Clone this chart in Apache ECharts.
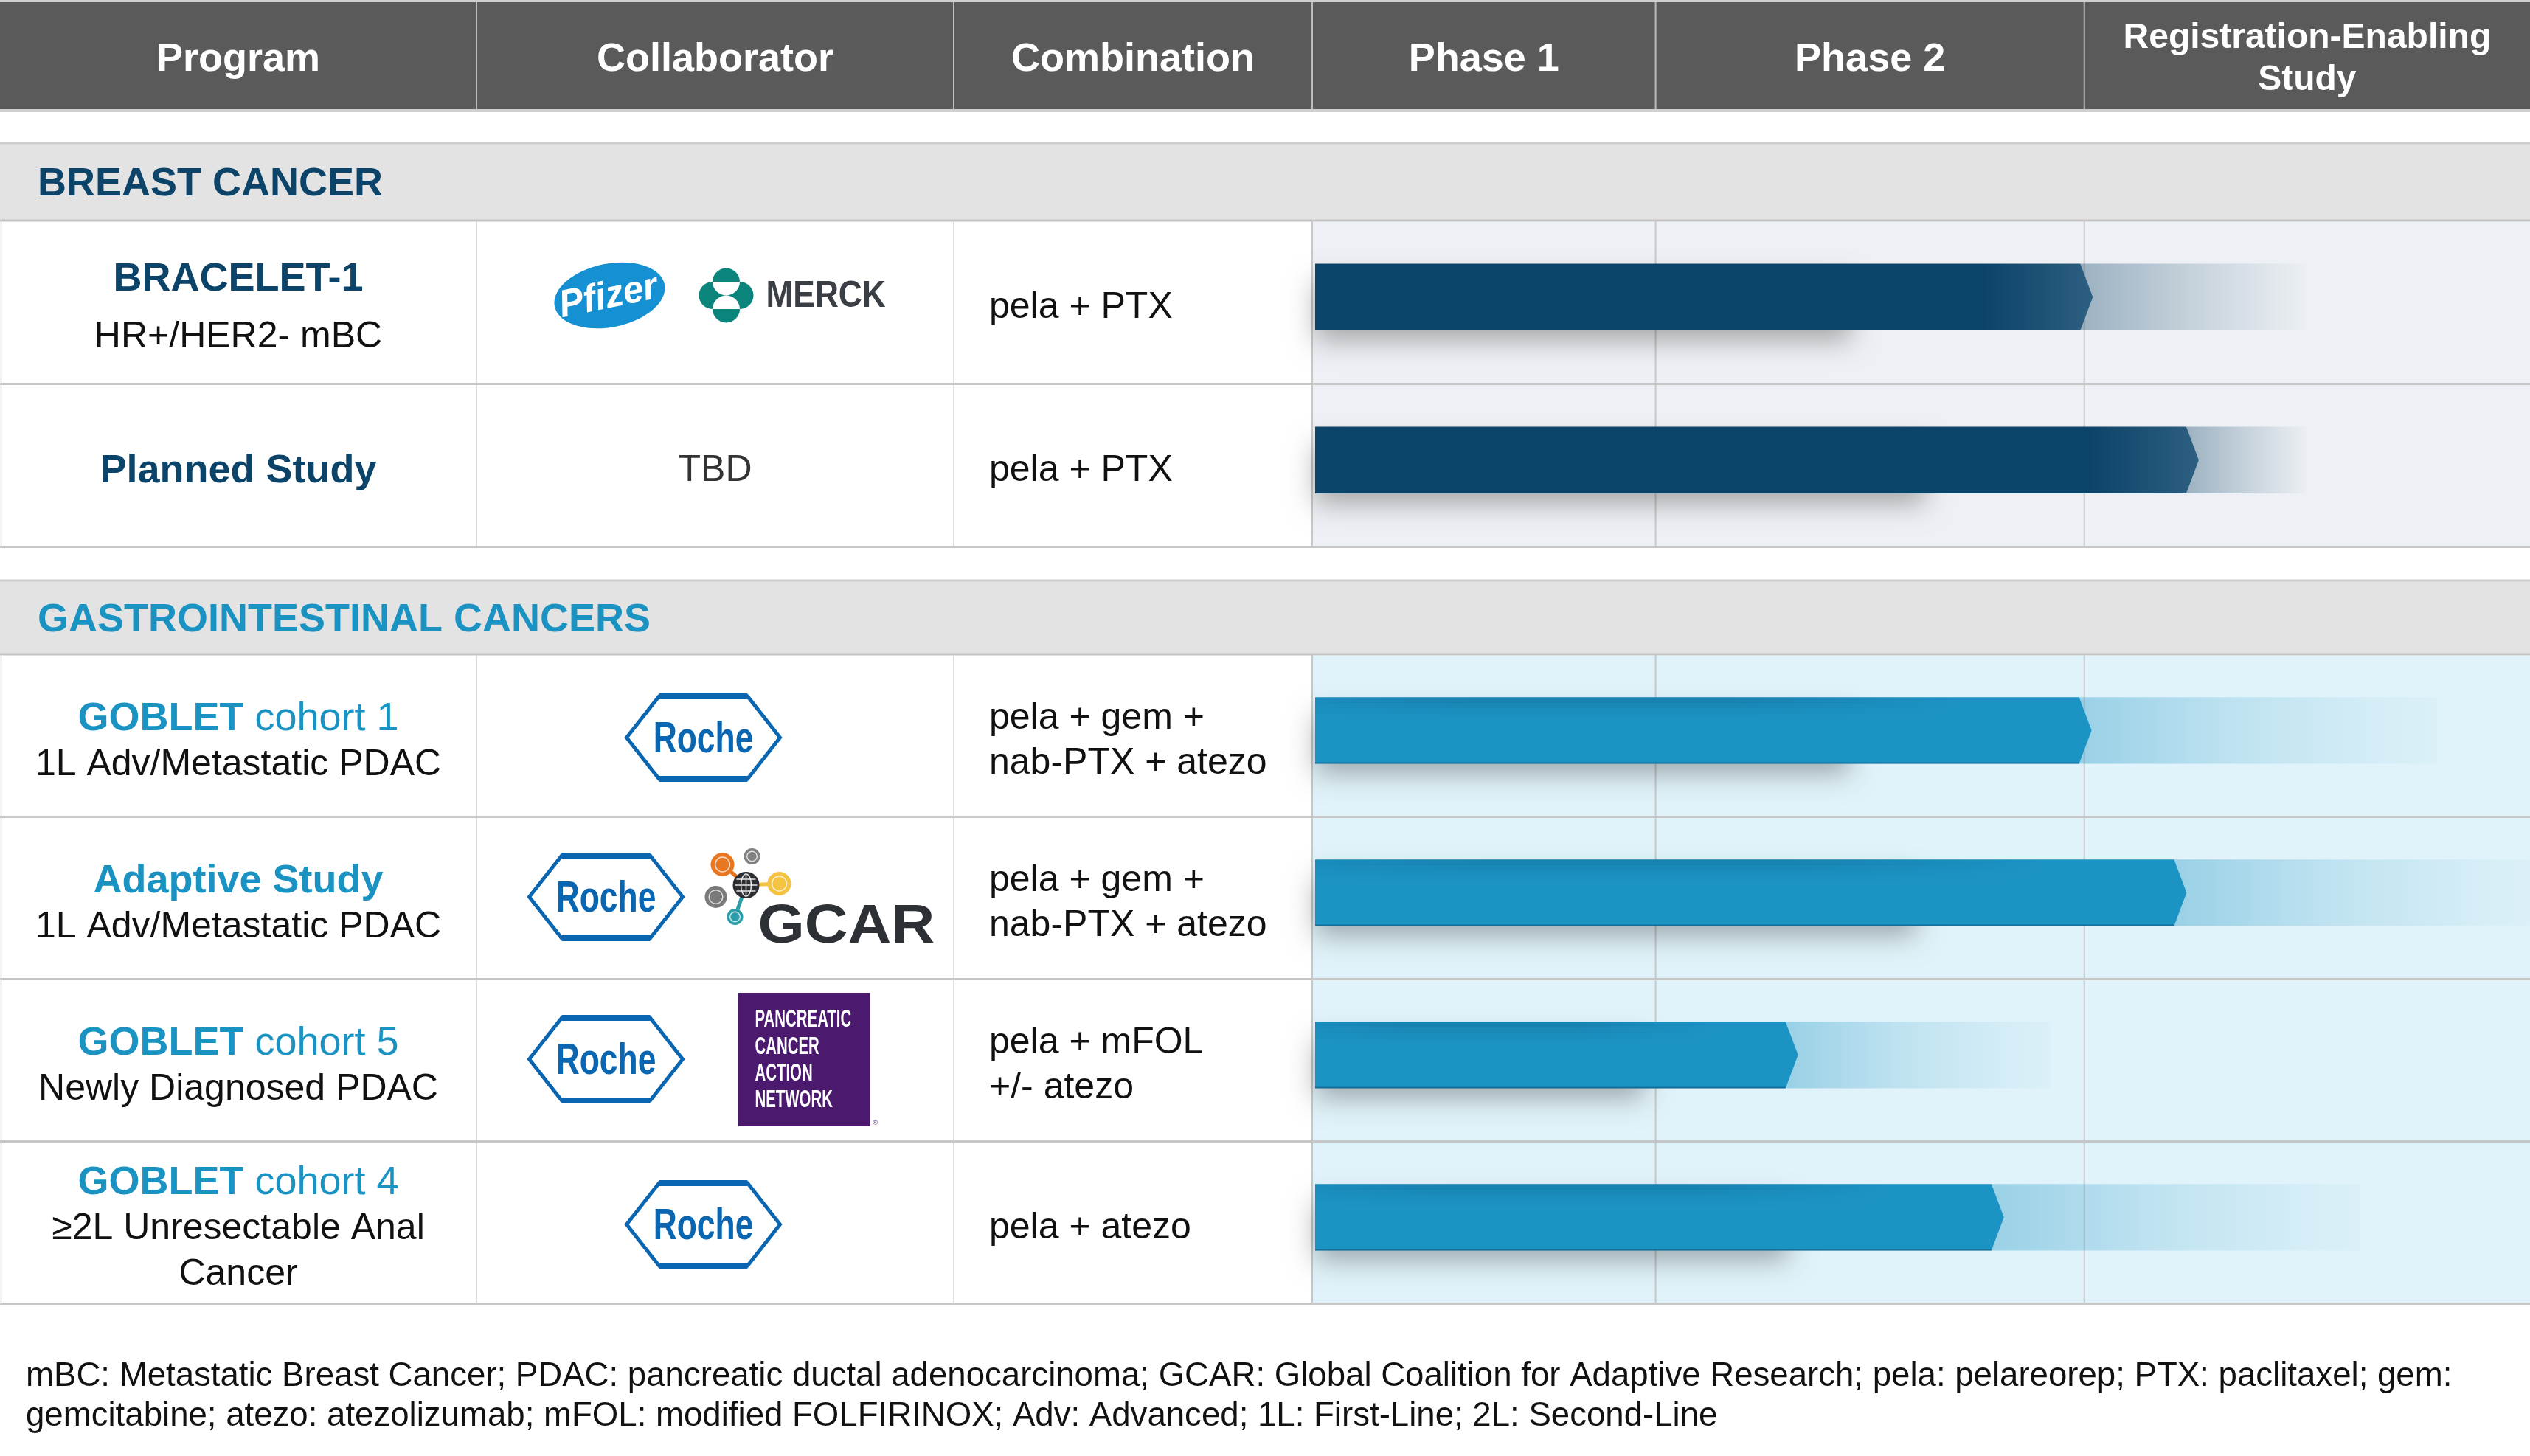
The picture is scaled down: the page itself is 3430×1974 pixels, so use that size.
<!DOCTYPE html>
<html><head><meta charset="utf-8">
<script src="https://cdn.jsdelivr.net/npm/echarts@6/dist/echarts.min.js"></script>
<style>html,body{margin:0;padding:0;background:#fff}#c{width:3430px;height:1974px}</style>
</head><body><div id="c"></div>
<script>
// ---------------- data ----------------
const phaseLabels = ['Phase 1', 'Phase 2', 'Registration-Enabling\nStudy'];
const phaseBounds = [0, 28.2, 63.4, 100];
const tableHeaders = ['Program', 'Collaborator', 'Combination'];
const sectionNames = ['BREAST CANCER', 'GASTROINTESTINAL CANCERS'];

const breastPrograms = ['BRACELET-1', 'Planned Study'];
const breastIndications = [['HR+/HER2- mBC'], []];
const breastCollaborators = [['Pfizer', 'MERCK'], ['TBD']];
const breastCombinations = [['pela + PTX'], ['pela + PTX']];
const breastProgress = [64.1, 72.8];
const breastOutlook = [84.0, 83.0];

const giPrograms = ['GOBLET cohort 1', 'Adaptive Study', 'GOBLET cohort 5', 'GOBLET cohort 4'];
const giIndications = [['1L Adv/Metastatic PDAC'], ['1L Adv/Metastatic PDAC'], ['Newly Diagnosed PDAC'], ['≥2L Unresectable Anal', 'Cancer']];
const giCollaborators = [['Roche'], ['Roche', 'GCAR'], ['Roche', 'PANCREATIC\nCANCER\nACTION\nNETWORK'], ['Roche']];
const giCombinations = [['pela + gem +', 'nab-PTX + atezo'], ['pela + gem +', 'nab-PTX + atezo'], ['pela + mFOL', '+/- atezo'], ['pela + atezo']];
const giProgress = [64.0, 71.8, 39.9, 56.8];
const giOutlook = [92.4, 100, 60.6, 86.1];

const footnoteLines = [
  'mBC: Metastatic Breast Cancer; PDAC: pancreatic ductal adenocarcinoma; GCAR: Global Coalition for Adaptive Research; pela: pelareorep; PTX: paclitaxel; gem:',
  'gemcitabine; atezo: atezolizumab; mFOL: modified FOLFIRINOX; Adv: Advanced; 1L: First-Line; 2L: Second-Line'
];

// ---------------- styles ----------------
const FF = '"Liberation Sans", Arial, Helvetica, sans-serif';
const fnt = (s, w, st) => `${st || 'normal'} ${w || 'normal'} ${s}px ${FF}`;
const NAVY = '#0c4368', BLUE = '#1b93c3', ROCHE = '#0b66b1';
const W = 3430, COLS = [0, 646, 1293, 1779];
const TY = 4; // text baseline nudge

const chart = echarts.init(document.getElementById('c'), null, {renderer: 'canvas'});

function barSeries(idx, programs, progress, outlook, pal) {
  return {
    type: 'custom', xAxisIndex: idx, yAxisIndex: idx, z: 2, silent: true,
    data: programs.map((p, i) => [progress[i], p, outlook[i]]),
    encode: {x: [0, 2], y: 1},
    renderItem: function (params, api) {
      const cat = api.value(1);
      const xs = api.coord([0, cat])[0] + 4;
      const c = api.coord([api.value(0), cat]);
      const xt = c[0];
      const xf = api.coord([api.value(2), cat])[0];
      const band = api.size([0, 1])[1];
      const h = band * 0.41;
      const yc = c[1] - band * 0.035;
      const top = yc - h / 2, bot = yc + h / 2;
      const xb = xt - 17;
      const len = xb - xs;
      const kids = [];
      kids.push({type: 'rect', shape: {x: xb, y: top, width: Math.max(0, xf - xb), height: h},
        style: {fill: new echarts.graphic.LinearGradient(0, 0, 1, 0, [
          {offset: 0, color: pal.tail + '0.36)'}, {offset: 0.45, color: pal.tail + '0.17)'},
          {offset: 0.9, color: pal.tail + (pal.endA * 1.6) + ')'}, {offset: 1, color: pal.tail + pal.endA + ')'}])}});
      kids.push({type: 'rect', shape: {x: xs, y: top + 6, width: len * 0.7, height: h - 10},
        style: {fill: pal.main, shadowBlur: 36, shadowOffsetY: 18, shadowColor: 'rgba(0,0,0,0.30)'}});
      kids.push({type: 'polygon', shape: {points: [[xs, top], [xb, top], [xt, yc], [xb, bot], [xs, bot]]},
        style: {fill: new echarts.graphic.LinearGradient(0, 0, 1, 0, [
          {offset: 0, color: pal.main}, {offset: Math.max(0, 1 - 150 / (len + 17)), color: pal.main},
          {offset: 1, color: pal.end}])}});
      if (pal.shade) {
        [0.15, 0.09, 0.045, 0.02].forEach((a, k) => kids.push({type: 'rect',
          shape: {x: xs, y: top + k * h * 0.08, width: len, height: h * 0.08 + 0.5},
          style: {fill: new echarts.graphic.LinearGradient(0, 0, 1, 0, [
            {offset: 0, color: 'rgba(0,40,70,' + a * 0.4 + ')'}, {offset: 0.2, color: 'rgba(0,40,70,' + a + ')'},
            {offset: 0.55, color: 'rgba(0,40,70,' + a + ')'}, {offset: 0.85, color: 'rgba(0,40,70,0)'}, {offset: 1, color: 'rgba(0,40,70,0)'}])}}));
        kids.push({type: 'rect', shape: {x: xs, y: bot - 2, width: len, height: 2}, style: {fill: 'rgba(0,50,80,0.35)'}});
      }
      return {type: 'group', children: kids};
    }
  };
}

chart.setOption({
  animation: false,
  backgroundColor: '#ffffff',
  grid: [{left: 1779, right: 0, top: 300, height: 442}, {left: 1779, right: 0, top: 888, height: 880}],
  xAxis: [0, 1].map(i => ({gridIndex: i, type: 'value', min: phaseBounds[0], max: phaseBounds[3], show: false})),
  yAxis: [
    {gridIndex: 0, type: 'category', data: breastPrograms, inverse: true, show: false},
    {gridIndex: 1, type: 'category', data: giPrograms, inverse: true, show: false}
  ],
  series: [
    barSeries(0, breastPrograms, breastProgress, breastOutlook, {main: NAVY, end: '#2d5f81', tail: 'rgba(12,67,104,', shade: false, endA: 0}),
    barSeries(1, giPrograms, giProgress, giOutlook, {main: BLUE, end: BLUE, tail: 'rgba(27,147,195,', shade: true, endA: 0.03})
  ]
});

// ---------------- table / annotations ----------------
const px = v => chart.convertToPixel({xAxisIndex: 0}, v);
const py = (ax, name) => chart.convertToPixel({yAxisIndex: ax}, name);
const g = [];
const R = (x, y, w, h, fill, z) => g.push({type: 'rect', silent: true, z: z || 0, shape: {x, y, width: w, height: h}, style: {fill}});
const L = (x1, y1, x2, y2, stroke, lw, z) => g.push({type: 'line', silent: true, z: z || 1, shape: {x1, y1, x2, y2}, style: {stroke, lineWidth: lw}});
const C = (cx, cy, r, fill, z, extra) => g.push({type: 'circle', silent: true, z: z || 9, shape: {cx, cy, r}, style: Object.assign({fill}, extra || {})});
const T = (x, y, text, font, fill, align, extra) => g.push(Object.assign({type: 'text', silent: true, z: 10, x, y,
  style: {text, font, fill, align: align || 'center', verticalAlign: 'middle', textAlign: align || 'center', textVerticalAlign: 'middle'}}, extra || {}));

const phaseX = phaseBounds.map(px);
const vlines = COLS.slice(1).concat(phaseX.slice(1, 3));

// header
R(0, 0, W, 152, '#cfcfcf');
R(0, 3, W, 145, '#5a5a5a');
vlines.forEach(x => L(x, 3, x, 148, '#bdbdbd', 2, 1));
tableHeaders.forEach((h, i) => T((COLS[i] + COLS[i + 1]) / 2, 77 + TY, h, fnt(54, 'bold'), '#ffffff'));
phaseLabels.forEach((h, i) => {
  const cx = (phaseX[i] + phaseX[i + 1]) / 2;
  const parts = h.split('\n');
  if (parts.length === 1) T(cx, 77 + TY, h, fnt(54, 'bold'), '#ffffff');
  else parts.forEach((p, j) => T(cx, 48 + TY + j * 57, p, fnt(48, 'bold'), '#ffffff'));
});

function drawLogo(name, cx, cy) {
  if (name === 'Roche') {
    const w = 104, h = 56, t = 60;
    g.push({type: 'polygon', z: 9, silent: true, shape: {points: [[cx - w, cy], [cx - t, cy - h], [cx + t, cy - h], [cx + w, cy], [cx + t, cy + h], [cx - t, cy + h]]},
      style: {fill: '#ffffff', stroke: ROCHE, lineWidth: 5}});
    R(cx - t, cy - h - 4, 2 * t, 8, ROCHE, 9.5);
    R(cx - t, cy + h - 4, 2 * t, 8, ROCHE, 9.5);
    T(cx, cy + 3, 'Roche', fnt(60, 'bold'), ROCHE, 'center', {scaleX: 0.74});
  } else if (name === 'Pfizer') {
    g.push({type: 'group', x: cx, y: cy, rotation: 0.2, z: 9, children: [
      {type: 'ellipse', z: 9, shape: {cx: 0, cy: 0, rx: 76, ry: 43}, style: {fill: '#1590d3'}},
      {type: 'text', z: 10, x: -2, y: 2, scaleX: 0.95, style: {text: 'Pfizer', font: fnt(52, 'bold', 'italic'), fill: '#ffffff', align: 'center', verticalAlign: 'middle'}}
    ]});
  } else if (name === 'MERCK') {
    const ic = cx - 136, r = 18.5, d = 18.5, teal = '#0b857b';
    C(ic - d, cy, r, teal); C(ic + d, cy, r, teal);
    C(ic, cy - d, r, teal); C(ic, cy + d, r, teal);
    g.push({type: 'sector', silent: true, z: 9.5, shape: {cx: ic, cy: cy - d, r: r, r0: 0, startAngle: 0, endAngle: Math.PI}, style: {fill: '#ffffff'}});
    g.push({type: 'sector', silent: true, z: 9.5, shape: {cx: ic, cy: cy + d, r: r, r0: 0, startAngle: Math.PI, endAngle: 2 * Math.PI}, style: {fill: '#ffffff'}});
    T(cx - 82, cy + 2, 'MERCK', fnt(50, 'bold'), '#3a3f46', 'left', {scaleX: 0.885});
  } else if (name === 'GCAR') {
    const gx = cx + 42, gy = cy - 18;
    const dots = [[-32, -28, 16, '#e87722', true], [8, -39, 11, '#808080', false], [45, -2, 16, '#f5c342', true],
                  [-41, 16, 15, '#7a7a7a', false], [-15, 43, 11, '#2a9da9', true]];
    dots.forEach(d => { if (d[4]) L(gx, gy, gx + d[0], gy + d[1], d[3], 5, 8.5); });
    dots.forEach(d => {
      C(gx + d[0], gy + d[1], d[2], d[3], 9);
      C(gx + d[0], gy + d[1], d[2] * 0.62, 'rgba(0,0,0,0)', 9.2, {stroke: 'rgba(255,255,255,0.75)', lineWidth: 1.5});
    });
    C(gx, gy, 18, '#2c2e33', 9);
    g.push({type: 'ellipse', silent: true, z: 9.3, shape: {cx: gx, cy: gy, rx: 7, ry: 15}, style: {fill: 'none', stroke: '#e8e8e8', lineWidth: 1.5}});
    L(gx - 15, gy, gx + 15, gy, '#e8e8e8', 1.5, 9.3);
    L(gx - 13, gy - 8, gx + 13, gy - 8, '#e8e8e8', 1.5, 9.3);
    L(gx - 13, gy + 8, gx + 13, gy + 8, '#e8e8e8', 1.5, 9.3);
    L(gx, gy - 15, gx, gy + 15, '#e8e8e8', 1.5, 9.3);
    T(cx + 58, cy + 40, 'GCAR', fnt(74, 'bold'), '#2d3035', 'left', {scaleX: 1.1});
  } else if (name.indexOf('PANCREATIC') === 0) {
    const x0 = cx + 31, y0 = cy - 92;
    R(x0, y0, 179, 181, '#4b1a6f', 8);
    name.split('\n').forEach((s, i) => T(x0 + 23, y0 + 37 + i * 36.3, s, fnt(34, 'bold'), '#ffffff', 'left', {scaleX: 0.6}));
    T(x0 + 183, y0 + 177, '®', fnt(9), '#4b1a6f', 'left');
  }
}

function collab(list, cy) {
  const cc = (COLS[1] + COLS[2]) / 2;
  if (list.length === 1 && list[0] === 'TBD') T(cc, cy + 3 + TY, 'TBD', fnt(50), '#333333');
  else if (list.length === 1) drawLogo(list[0], cc - 16, cy + 2);
  else if (list[0] === 'Pfizer') { drawLogo('Pfizer', cc - 143, cy - 10); drawLogo('MERCK', cc + 151, cy - 10); }
  else { drawLogo(list[0], cc - 148, cy - 2); drawLogo(list[1], cc, cy); }
}

function section(ax, name, color, programs, indications, collabs, combos, bg, gap, titleGap, bandH) {
  const c0 = py(ax, programs[0]);
  const rowH = programs.length > 1 ? py(ax, programs[1]) - c0 : 221;
  const top = c0 - rowH / 2, bottom = top + rowH * programs.length;
  // band
  R(0, top - bandH, W, bandH, '#e3e3e3');
  L(0, top - bandH + 1, W, top - bandH + 1, '#cdcdcd', 3, 1);
  L(0, top - 1, W, top - 1, '#c4c4c4', 3, 1);
  T(51, top - bandH / 2 + TY, name, fnt(54, 'bold'), color, 'left');
  // rows bg
  R(COLS[3], top + 1, W - COLS[3], bottom - top - 1, bg);
  [0, 1, 2].forEach(i => L(COLS[i] + (i === 0 ? 1.5 : 0), top, COLS[i] + (i === 0 ? 1.5 : 0), bottom, '#d2d2d2', 1.5, 1));
  vlines.slice(2).concat([COLS[3]]).forEach(x => L(x, top, x, bottom, '#c8c8c8', 2, 1));
  programs.forEach((p, i) => {
    const cy = c0 + i * rowH;
    L(0, cy + rowH / 2 - 0.5, W, cy + rowH / 2 - 0.5, '#c6c6c6', 3, 1.5);
    const lines = [p].concat(indications[i]);
    const n = lines.length;
    const gp = n === 2 ? titleGap : gap;
    lines.forEach((s, j) => {
      const y = cy + 4 + TY + (j - (n - 1) / 2) * gp;
      if (j === 0) {
        if (p.indexOf('GOBLET ') === 0) {
          g.push({type: 'text', silent: true, z: 10, x: 323, y,
            style: {text: '{b|GOBLET}{r|' + p.slice(6) + '}', align: 'center', verticalAlign: 'middle', textAlign: 'center', textVerticalAlign: 'middle',
              rich: {b: {font: fnt(54, 'bold'), fill: color}, r: {font: fnt(54), fill: color}}}});
        } else T(323, y, s, fnt(54, 'bold'), color);
      } else T(323, y, s, fnt(50), '#111111');
    });
    collab(collabs[i], cy);
    const cl = combos[i];
    cl.forEach((s, j) => T(COLS[2] + 48, cy + 3 + TY + (j - (cl.length - 1) / 2) * 61, s, fnt(50), '#111111', 'left'));
  });
}

section(0, sectionNames[0], NAVY, breastPrograms, breastIndications, breastCollaborators, breastCombinations, '#edf0f4', 61, 78, 107);
section(1, sectionNames[1], '#1a93c3', giPrograms, giIndications, giCollaborators, giCombinations, '#e1f3fa', 62, 62, 102);

footnoteLines.forEach((s, i) => T(35, 1866 + i * 54, s, fnt(45.6), '#111111', 'left'));

chart.setOption({graphic: {elements: g}});
</script></body></html>
